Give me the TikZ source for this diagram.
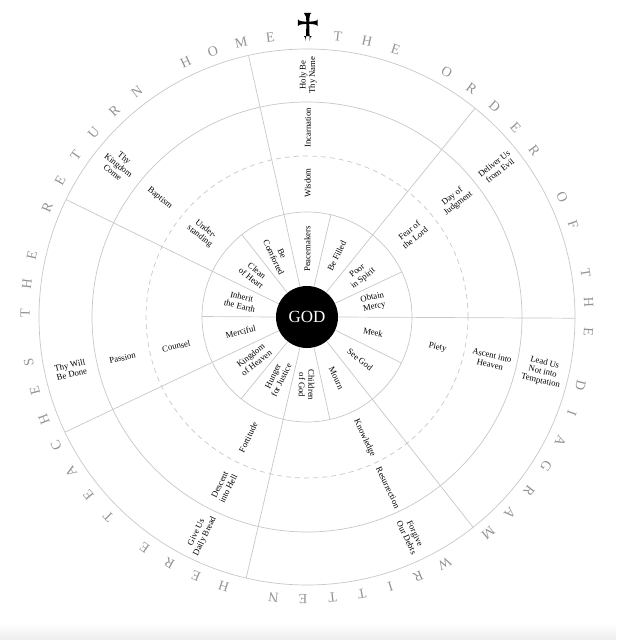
\documentclass[tikz,border=0pt]{standalone}
\usepackage{fontspec}
\setmainfont{Liberation Serif}
\usepackage{tikz}
\usetikzlibrary{calc}

\begin{document}
\begin{tikzpicture}[
  x=1pt, y=1pt,
  ring/.style = {draw=black!22, line width=0.7pt},
  dashring/.style = {ring, dash pattern=on 5pt off 4pt},
  spoke/.style = {draw=black!22, line width=0.7pt},
  godnode/.style = {circle, fill=black, text=white, minimum size=62pt, inner sep=0pt, outer sep=0pt,
    font=\fontsize{17}{19}\selectfont},
  label/.style = {align=center, inner sep=0pt, font=\fontsize{8.7}{9.4}\selectfont},
  letter/.style = {inner sep=0pt, text=black!42, font=\fontsize{14}{16}\selectfont}
]

% Parameters (radii in px)
\def\Rgod{31}
\def\Rone{105}
\def\Rdash{161}
\def\Rtwo{215}
\def\Rout{268}
\def\Rtext{282}

% Frame
\useasboundingbox (-307,-323) rectangle (309,317);
\shade[top color=white, bottom color=black!7] (-307,-323) rectangle (309,-306);

% Rings
\draw[ring] (0,0) circle (\Rone);
\draw[dashring] (0,0) circle (\Rdash);
\draw[ring] (0,0) circle (\Rtwo);
\draw[ring] (0,0) circle (\Rout);

% Centre
\node[godnode] (god) at (0,0) {GOD};

% Long spokes and short spokes
\foreach \k in {0,...,6} {
  \pgfmathsetmacro\ang{90-(347.4+51.43*\k)}
  \draw[spoke] (god.\ang) -- (\ang:\Rout);
  \pgfmathsetmacro\angb{\ang-25.71}
  \draw[spoke] (god.\angb) -- (\angb:\Rone);
}

% Beatitudes
\foreach \txt [count=\i from 0] in {Peacemakers, Be Filled, Poor\\in Spirit, Obtain\\Mercy, Meek, See God,
  Mourn, Children\\of God, Hunger\\for Justice, Kingdom\\of Heaven, Merciful, Inherit\\the Earth,
  Clean\\of Heart, Be\\Comforted} {
  \pgfmathsetmacro\ang{90-(0.3+25.714*\i)}
  \pgfmathsetmacro\rot{\i>7 ? \ang+180 : \ang}
  \node[label, rotate=\rot] (b\i) at (\ang:68) {\txt};
}

% Gifts, mysteries, petitions
\foreach \gift/\myst/\pet [count=\i from 0] in {
  Wisdom/Incarnation/Holy Be\\Thy Name,
  Fear of\\the Lord/Day of\\Judgment/Deliver Us\\from Evil,
  Piety/Ascent into\\Heaven/Lead Us\\Not into\\Temptation,
  Knowledge/Resurrection/Forgive\\Our Debts,
  Fortitude/Descent\\into Hell/Give Us\\Daily Bread,
  Counsel/Passion/Thy Will\\Be Done,
  Under-\\standing/Baptism/Thy\\Kingdom\\Come} {
  \pgfmathsetmacro\ang{90-(0.3+51.43*\i)}
  \pgfmathsetmacro\rot{\i>3 ? \ang+180 : \ang}
  \node[label, rotate=\rot] (g\i) at (\ang:134) {\gift};
  \node[label, rotate=\rot] (m\i) at (\ang:189) {\myst};
  \node[label, rotate=\rot] (p\i) at (\ang:242) {\pet};
}

% Lettering round the rim
\foreach \word/\start [count=\w] in {{T,H,E}/6.3, {O,R,D,E,R}/29.7, {O,F}/64.8, {T,H,E}/81.1,
  {D,I,A,G,R,A,M}/104, {W,R,I,T,T,E,N}/150.8, {H,E,R,E}/197.2, {T,E,A,C,H,E,S}/224.8,
  {T,H,E}/270.7, {R,E,T,U,R,N}/292.9, {H,O,M,E}/334.5} {
  \foreach \ch [count=\j from 0] in \word {
    \pgfmathsetmacro\ang{90-\start-6*\j}
    \node[letter, rotate=\ang-90] (ch\w-\j) at (\ang:\Rtext) {\ch};
  }
}

% Cross
\fill[black] (0.8,294) ++(-1.4,1.3) -- ++(-0.4,5) .. controls ++(-0.4,2) and ++(-1.2,-0.3) .. ++(-1.9,3.8)
  -- ++(7.4,0) .. controls ++(-0.6,-0.3) and ++(-0.4,2) .. ++(-1.9,-3.8) -- ++(-0.4,-5)
  -- ++(4.6,0.4) .. controls ++(2,0.4) and ++(-0.3,-1.2) .. ++(3.9,1.9) -- ++(0,-6.8)
  .. controls ++(-0.3,1.2) and ++(2,-0.4) .. ++(-3.9,1.9) -- ++(-4.6,0.4)
  -- ++(0.5,-17) .. controls ++(0.3,2) and ++(-1.2,0.3) .. ++(2,4.8) -- ++(-7.8,0)
  .. controls ++(1.2,0.3) and ++(-0.3,2) .. ++(2,-4.8) -- ++(0.5,17)
  -- ++(-4.6,-0.4) .. controls ++(-2,-0.4) and ++(0.3,1.2) .. ++(-3.9,-1.9) -- ++(0,6.8)
  .. controls ++(0.3,-1.2) and ++(-2,0.4) .. ++(3.9,-1.9) -- cycle;

\end{tikzpicture}
\end{document}
